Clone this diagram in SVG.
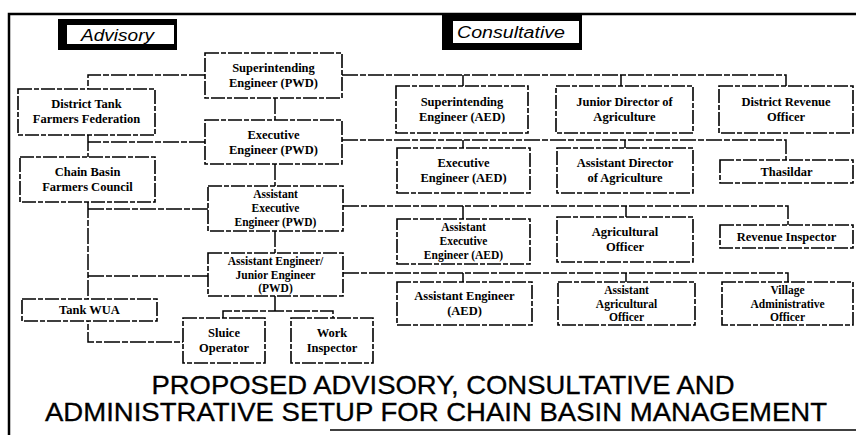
<svg xmlns="http://www.w3.org/2000/svg" width="856" height="435" viewBox="0 0 856 435">
  <style>
    .frame { fill: none; stroke: #000; stroke-width: 2.5; }
    .box rect { fill: #fff; stroke: #000; stroke-width: 1.6; stroke-dasharray: 14 2 5 2; }
    .box text { font-family: "Liberation Serif", "Times New Roman", serif; font-size: 12.5px; font-weight: bold; fill: #000; text-anchor: middle; }
    .box text.s { font-size: 11.5px; }
    .conn path { fill: none; stroke: #000; stroke-width: 1.5; stroke-dasharray: 16 2 6 2; }
    .tag text { font-family: "Liberation Sans", Arial, sans-serif; font-style: italic; font-size: 16px; fill: #000; }
    .title { font-family: "Liberation Sans", Arial, sans-serif; font-size: 25px; fill: #000; stroke: #000; stroke-width: 0.3; text-anchor: middle; }
  </style>

  <!-- outer frame -->
  <path class="frame" d="M9,435 V14 H856" />
  <path d="M330,430 H856" stroke="#000" stroke-width="1.5" fill="none" />

  <!-- section tags -->
  <g id="tag-advisory" class="tag">
    <rect x="58" y="19" width="119" height="31" fill="#000" />
    <rect x="67" y="25" width="107" height="19" fill="#fff" />
    <text x="81" y="41" textLength="73" lengthAdjust="spacingAndGlyphs">Advisory</text>
  </g>
  <g id="tag-consultative" class="tag">
    <rect x="442" y="15" width="140" height="35" fill="#000" />
    <rect x="453" y="21" width="126" height="22" fill="#fff" />
    <text x="457" y="38" textLength="108" lengthAdjust="spacingAndGlyphs">Consultative</text>
  </g>

  <!-- connectors -->
  <g id="connectors" class="conn">
    <path d="M205,75 H88 V89" />
    <path d="M342,75 H786 V86 M463,75 V86 M621,75 V86" />
    <path d="M275,98 V120" />
    <path d="M88,135 V157 M205,142 H88" />
    <path d="M342,140 H786 V160 M463,140 V148 M625,140 V148" />
    <path d="M275,164 V186" />
    <path d="M88,202 V342 H183" />
    <path d="M208,209 H88 M208,276 H88" />
    <path d="M343,206 H788 V225 M463,206 V219 M626,206 V217" />
    <path d="M275,231 V253" />
    <path d="M343,273 H788 V282 M463,273 V282 M626,273 V282" />
    <path d="M275,296 V311 M223,318 V311 H333 V318" />
  </g>

  <!-- PWD line (administrative) -->
  <g id="se-pwd" class="box">
    <rect x="205" y="53" width="137" height="45" />
    <text x="273.5" y="72">Superintending</text>
    <text x="273.5" y="87">Engineer (PWD)</text>
  </g>
  <g id="ee-pwd" class="box">
    <rect x="205" y="120" width="137" height="44" />
    <text x="273.5" y="139">Executive</text>
    <text x="273.5" y="154">Engineer (PWD)</text>
  </g>
  <g id="aee-pwd" class="box">
    <rect x="208" y="186" width="135" height="45" />
    <text class="s" x="275.5" y="198">Assistant</text>
    <text class="s" x="275.5" y="212">Executive</text>
    <text class="s" x="275.5" y="226">Engineer (PWD)</text>
  </g>
  <g id="ae-je-pwd" class="box">
    <rect x="208" y="253" width="135" height="43" />
    <text class="s" x="275.5" y="265">Assistant Engineer/</text>
    <text class="s" x="275.5" y="278.5">Junior Engineer</text>
    <text class="s" x="275.5" y="292">(PWD)</text>
  </g>
  <g id="sluice-operator" class="box">
    <rect x="183" y="318" width="82" height="45" />
    <text x="224" y="337">Sluice</text>
    <text x="224" y="352">Operator</text>
  </g>
  <g id="work-inspector" class="box">
    <rect x="291" y="318" width="82" height="45" />
    <text x="332" y="337">Work</text>
    <text x="332" y="352">Inspector</text>
  </g>

  <!-- advisory bodies -->
  <g id="district-tank-federation" class="box">
    <rect x="18" y="89" width="137" height="46" />
    <text x="86.5" y="108">District Tank</text>
    <text x="86.5" y="123">Farmers Federation</text>
  </g>
  <g id="chain-basin-council" class="box">
    <rect x="20" y="157" width="135" height="45" />
    <text x="87.5" y="176">Chain Basin</text>
    <text x="87.5" y="191">Farmers Council</text>
  </g>
  <g id="tank-wua" class="box">
    <rect x="22" y="299" width="135" height="22" />
    <text x="89.5" y="314">Tank WUA</text>
  </g>

  <!-- consultative: AED column -->
  <g id="se-aed" class="box">
    <rect x="396" y="86" width="132" height="47" />
    <text x="462" y="106">Superintending</text>
    <text x="462" y="121">Engineer (AED)</text>
  </g>
  <g id="ee-aed" class="box">
    <rect x="397" y="148" width="133" height="45" />
    <text x="463.5" y="167">Executive</text>
    <text x="463.5" y="182">Engineer (AED)</text>
  </g>
  <g id="aee-aed" class="box">
    <rect x="397" y="219" width="133" height="45" />
    <text class="s" x="463.5" y="231">Assistant</text>
    <text class="s" x="463.5" y="245">Executive</text>
    <text class="s" x="463.5" y="259">Engineer (AED)</text>
  </g>
  <g id="ae-aed" class="box">
    <rect x="397" y="282" width="135" height="43" />
    <text x="464.5" y="300">Assistant Engineer</text>
    <text x="464.5" y="315">(AED)</text>
  </g>

  <!-- consultative: agriculture column -->
  <g id="jda" class="box">
    <rect x="556" y="86" width="137" height="47" />
    <text x="624.5" y="106">Junior Director of</text>
    <text x="624.5" y="121">Agriculture</text>
  </g>
  <g id="ada" class="box">
    <rect x="557" y="148" width="136" height="45" />
    <text x="625" y="167">Assistant Director</text>
    <text x="625" y="182">of Agriculture</text>
  </g>
  <g id="agri-officer" class="box">
    <rect x="557" y="217" width="136" height="45" />
    <text x="625" y="236">Agricultural</text>
    <text x="625" y="251">Officer</text>
  </g>
  <g id="asst-agri-officer" class="box">
    <rect x="558" y="282" width="137" height="43" />
    <text class="s" x="626.5" y="294">Assistant</text>
    <text class="s" x="626.5" y="307.5">Agricultural</text>
    <text class="s" x="626.5" y="321">Officer</text>
  </g>

  <!-- consultative: revenue column -->
  <g id="dro" class="box">
    <rect x="719" y="86" width="134" height="47" />
    <text x="786" y="106">District Revenue</text>
    <text x="786" y="121">Officer</text>
  </g>
  <g id="thasildar" class="box">
    <rect x="720" y="160" width="133" height="23" />
    <text x="786.5" y="176">Thasildar</text>
  </g>
  <g id="revenue-inspector" class="box">
    <rect x="720" y="225" width="133" height="23" />
    <text x="786.5" y="241">Revenue Inspector</text>
  </g>
  <g id="vao" class="box">
    <rect x="722" y="282" width="131" height="43" />
    <text class="s" x="787.5" y="294">Village</text>
    <text class="s" x="787.5" y="307.5">Administrative</text>
    <text class="s" x="787.5" y="321">Officer</text>
  </g>

  <!-- title -->
  <text class="title" x="443" y="394" textLength="583" lengthAdjust="spacingAndGlyphs">PROPOSED ADVISORY, CONSULTATIVE AND</text>
  <text class="title" x="436" y="421" textLength="782" lengthAdjust="spacingAndGlyphs">ADMINISTRATIVE SETUP FOR CHAIN BASIN MANAGEMENT</text>
</svg>
